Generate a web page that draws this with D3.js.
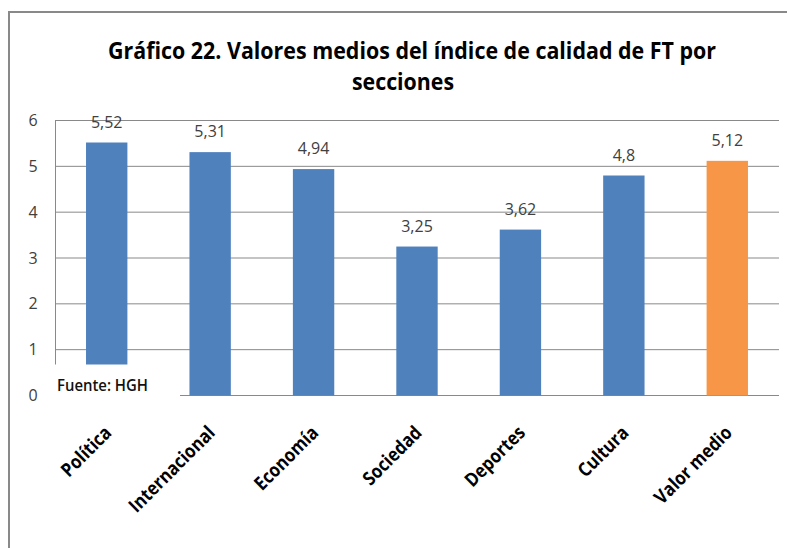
<!DOCTYPE html>
<html>
<head>
<meta charset="utf-8">
<script src="https://cdn.jsdelivr.net/npm/d3@7"></script>
<style>
  body { margin: 0; background: #fff; }
  svg { display: block; font-family: "Open Sans", "DejaVu Sans", sans-serif; }
</style>
</head>
<body>
<div id="grafico"></div>
<script>
// datos del gráfico
const secciones = ["Política", "Internacional", "Economía", "Sociedad", "Deportes", "Cultura", "Valor medio"];
const valores = [5.52, 5.31, 4.94, 3.25, 3.62, 4.8, 5.12];
const yTicks = [0, 1, 2, 3, 4, 5, 6];
const titulo = ["Gráfico 22. Valores medios del índice de calidad de FT por", "secciones"];
const fuente = "Fuente: HGH";

const width = 787, height = 548;
const azul = "#4f81bd", naranja = "#f79646", gris = "#898989";

let svg = d3.select("#grafico").append("svg")
    .attr("width", width)
    .attr("height", height);

svg.append("rect").attr("width", width).attr("height", height).attr("fill", "#fff");

// marco
svg.append("rect")
    .attr("x", 9).attr("y", 12)
    .attr("width", 800).attr("height", 560)
    .attr("fill", "none")
    .attr("stroke", gris)
    .attr("stroke-width", 2);

const x = d3.scaleBand()
    .domain(secciones)
    .range([55, 779])
    .paddingInner(0.6)
    .paddingOuter(0.3);

const y = d3.scaleLinear()
    .domain([0, 6])
    .range([395.5, 120.5]);

// titulo
const tLines = [{t: titulo[0], cx: 412, y: 59, w: 608}, {t: titulo[1], cx: 403, y: 90, w: 102}];
tLines.forEach(l => {
  svg.append("text")
    .attr("x", l.cx).attr("y", l.y)
    .attr("text-anchor", "middle")
    .attr("font-size", 23)
    .attr("font-weight", "bold")
    .attr("fill", "#000")
    .attr("textLength", l.w)
    .attr("lengthAdjust", "spacingAndGlyphs")
    .text(l.t);
});

// rejilla
svg.append("g")
  .selectAll("line")
  .data(yTicks)
  .join("line")
    .attr("x1", 55).attr("x2", 779)
    .attr("y1", d => y(d)).attr("y2", d => y(d))
    .attr("stroke", gris)
    .attr("stroke-width", 1);

// eje y
const yAxis = svg.append("g")
    .attr("transform", "translate(55,0)")
    .call(d3.axisLeft(y).tickValues(yTicks).tickSize(0).tickPadding(18).tickFormat(d3.format("d")));
yAxis.select(".domain").attr("stroke", gris);
yAxis.selectAll("text")
    .attr("font-size", 16)
    .attr("fill", "#404040")
    .attr("text-anchor", "middle")
    .attr("dx", "-4")
    .attr("font-family", "'Open Sans', sans-serif");

// barras
svg.append("g")
  .selectAll("rect")
  .data(valores)
  .join("rect")
    .attr("x", (d, i) => x(secciones[i]))
    .attr("width", x.bandwidth())
    .attr("y", d => y(d))
    .attr("height", d => y(0) - y(d))
    .attr("fill", (d, i) => i === valores.length - 1 ? naranja : azul);

// etiquetas de valor
svg.append("g")
  .selectAll("text")
  .data(valores)
  .join("text")
    .attr("x", (d, i) => x(secciones[i]) + x.bandwidth() / 2)
    .attr("y", d => y(d) - 15)
    .attr("text-anchor", "middle")
    .attr("font-size", 16)
    .attr("fill", "#404040")
    .text(d => String(d).replace(".", ","));

// caja de la fuente
svg.append("rect")
    .attr("x", 50).attr("y", 364.5)
    .attr("width", 130).attr("height", 36)
    .attr("fill", "#fff");
svg.append("text")
    .attr("x", 57).attr("y", 391)
    .attr("font-size", 15.5)
    .attr("font-weight", 600)
    .attr("fill", "#111")
    .attr("textLength", 91)
    .attr("lengthAdjust", "spacingAndGlyphs")
    .text(fuente);

// categorias
let cats = svg.append("g")
  .selectAll("text")
  .data(secciones)
  .join("text")
    .attr("text-anchor", "end")
    .attr("font-size", 19)
    .attr("font-weight", "bold")
    .attr("fill", "#000")
    .text(d => d);

cats.each(function() {
  // letra mas estrecha, tipo Calibri
  d3.select(this)
    .attr("textLength", this.getComputedTextLength() * 0.88)
    .attr("lengthAdjust", "spacingAndGlyphs");
});

cats.attr("transform", d => `translate(${x(d) + x.bandwidth() / 2 + 6},${434}) rotate(-45)`);
</script>
</body>
</html>
